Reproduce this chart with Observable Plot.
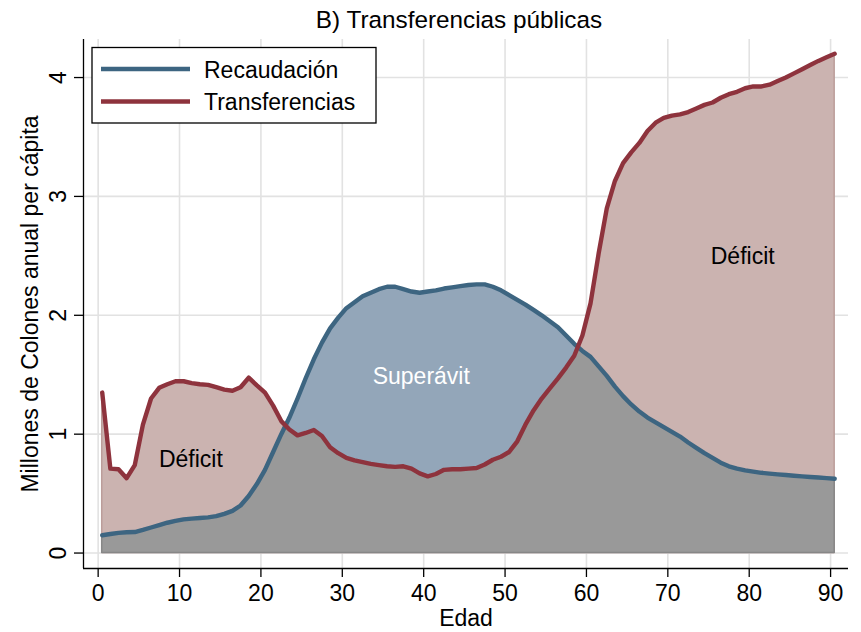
<!DOCTYPE html>
<html><head><meta charset="utf-8">
<script src="https://cdn.jsdelivr.net/npm/d3@7"></script>
<script src="https://cdn.jsdelivr.net/npm/@observablehq/plot@0.6"></script>
<style>body{margin:0;background:#fff;} svg{display:block}</style>
</head><body><div id="chart"></div>
<script>
const title = "B) Transferencias públicas";
const xLabel = "Edad";
const yLabel = "Millones de Colones anual per cápita";
const seriesNames = ["Recaudación", "Transferencias"];
const xTicks = [0, 10, 20, 30, 40, 50, 60, 70, 80, 90];
const yTicks = [0, 1, 2, 3, 4];

const ages = [0.5,1.5,2.5,3.5,4.5,5.5,6.5,7.5,8.5,9.5,10.5,11.5,12.5,13.5,14.5,15.5,16.5,17.5,18.5,19.5,
  20.5,21.5,22.5,23.5,24.5,25.5,26.5,27.5,28.5,29.5,30.5,31.5,32.5,33.5,34.5,35.5,36.5,37.5,38.5,39.5,
  40.5,41.5,42.5,43.5,44.5,45.5,46.5,47.5,48.5,49.5,50.5,51.5,52.5,53.5,54.5,55.5,56.5,57.5,58.5,59.5,
  60.5,61.5,62.5,63.5,64.5,65.5,66.5,67.5,68.5,69.5,70.5,71.5,72.5,73.5,74.5,75.5,76.5,77.5,78.5,79.5,
  80.5,81.5,82.5,83.5,84.5,85.5,86.5,87.5,88.5,89.5,90.5];

const recaudacion = [0.15,0.16,0.17,0.175,0.177,0.195,0.215,0.235,0.255,0.27,
  0.283,0.29,0.295,0.30,0.31,0.33,0.355,0.40,0.48,0.58,
  0.70,0.85,1.00,1.14,1.30,1.47,1.63,1.77,1.89,1.98,
  2.06,2.11,2.16,2.19,2.22,2.24,2.24,2.22,2.20,2.19,
  2.20,2.21,2.225,2.235,2.245,2.255,2.26,2.26,2.24,2.21,
  2.17,2.13,2.09,2.045,2.00,1.95,1.90,1.83,1.76,1.70,
  1.65,1.57,1.49,1.40,1.32,1.25,1.19,1.14,1.10,1.06,
  1.02,0.98,0.93,0.885,0.84,0.80,0.76,0.73,0.71,0.695,
  0.685,0.675,0.668,0.662,0.656,0.65,0.645,0.64,0.635,0.63,0.625];

const transferencias = [1.35,0.71,0.705,0.63,0.74,1.08,1.30,1.39,1.42,1.445,
  1.445,1.43,1.42,1.415,1.395,1.375,1.365,1.395,1.475,1.41,
  1.35,1.24,1.11,1.04,0.99,1.01,1.035,0.985,0.89,0.84,
  0.80,0.78,0.765,0.75,0.74,0.73,0.725,0.73,0.71,0.67,
  0.645,0.665,0.70,0.705,0.705,0.71,0.715,0.745,0.785,0.81,
  0.85,0.94,1.08,1.20,1.30,1.385,1.47,1.56,1.66,1.83,
  2.10,2.52,2.90,3.13,3.28,3.37,3.45,3.55,3.62,3.66,
  3.68,3.69,3.71,3.74,3.77,3.79,3.83,3.86,3.88,3.91,
  3.925,3.925,3.94,3.97,4.00,4.035,4.07,4.105,4.14,4.17,4.20];

const noteTexts = ["Déficit", "Superávit", "Déficit"];
const noteAges = [11.4, 39.7, 79.2];
const noteValues = [0.785, 1.484, 2.494];
const noteColors = ["black", "white", "black"];

const data = ages.map((a, i) => ({age: a, r: recaudacion[i], t: transferencias[i]}));
// lower envelope (min of both series) with exact crossing points
const low = [];
for (let i = 0; i < data.length; i++) {
  low.push({age: data[i].age, v: Math.min(data[i].r, data[i].t)});
  if (i < data.length - 1) {
    const d0 = data[i].r - data[i].t, d1 = data[i + 1].r - data[i + 1].t;
    if (d0 * d1 < 0) {
      const f = d0 / (d0 - d1);
      low.push({age: data[i].age + f * (data[i + 1].age - data[i].age), v: data[i].r + f * (data[i + 1].r - data[i].r)});
    }
  }
}
const notes = noteTexts.map((s, i) => ({text: s, age: noteAges[i], v: noteValues[i], c: noteColors[i]}));

const colRec = "#3d6581", colTra = "#8e333d";
const xDomain = [-1.8, 92.2], yDomain = [-0.13, 4.32];
const FONT = "'Liberation Sans', Arial, Helvetica, sans-serif";

const plot = Plot.plot({
  width: 861, height: 632,
  marginLeft: 83, marginRight: 13, marginTop: 39, marginBottom: 64,
  style: {fontFamily: FONT, fontSize: "23px", background: "white", color: "black"},
  x: {domain: xDomain, label: null},
  y: {domain: yDomain, label: null},
  marks: [
    Plot.gridX(xTicks, {stroke: "#e2e2e2", strokeOpacity: 1, strokeWidth: 1.6}),
    Plot.gridY(yTicks, {stroke: "#e2e2e2", strokeOpacity: 1, strokeWidth: 1.6}),
    Plot.areaY(data, {x: "age", y: "t", fill: "#cbb3b0", stroke: "#bb9d9a", strokeWidth: 1.5}),
    Plot.areaY(data, {x: "age", y: "r", fill: "#93a6b9"}),
    Plot.areaY(low, {x: "age", y: "v", fill: "#999999", stroke: "#878787", strokeWidth: 1.5}),
    Plot.lineY(data, {x: "age", y: "r", stroke: colRec, strokeWidth: 4.4, strokeLinejoin: "round"}),
    Plot.lineY(data, {x: "age", y: "t", stroke: colTra, strokeWidth: 4.4, strokeLinejoin: "round"}),
    Plot.ruleX([xDomain[0]], {stroke: "black", strokeWidth: 1.3}),
    Plot.ruleY([yDomain[0]], {stroke: "black", strokeWidth: 1.3}),
    Plot.axisX({ticks: xTicks, tickSize: 9, tickPadding: 7, fontSize: 23, label: null, strokeWidth: 1.3}),
    Plot.axisY({ticks: yTicks, tickSize: 9, tickFormat: () => "", label: null, strokeWidth: 1.3}),
    Plot.text(yTicks, {y: d => d, text: d => String(d), frameAnchor: "left", textAnchor: "middle", lineAnchor: "middle", dx: -25, rotate: -90, fontSize: 23}),
    Plot.text([yLabel], {text: d => d, frameAnchor: "left", textAnchor: "middle", lineAnchor: "middle", dx: -53, rotate: -90, fontSize: 23}),
    Plot.text([xLabel], {text: d => d, frameAnchor: "bottom", lineAnchor: "middle", dy: 50, fontSize: 23}),
    Plot.text([title], {text: d => d, frameAnchor: "top", lineAnchor: "middle", dy: -19, dx: -7, fontSize: 24.3}),
    Plot.text(notes, {x: "age", y: "v", text: "text", fill: d => d.c, fontSize: 23})
  ]
});

// legend
const svg = d3.select(plot);
const lg = svg.append("g").attr("font-family", FONT).attr("font-size", 23).attr("text-anchor", "start");
lg.append("rect").attr("x", 92).attr("y", 47.5).attr("width", 284).attr("height", 75.5)
  .attr("fill", "white").attr("stroke", "black").attr("stroke-width", 1.3);
[[colRec, 69, 78, seriesNames[0]], [colTra, 101.5, 110, seriesNames[1]]].forEach(([c, ly, ty, s]) => {
  lg.append("line").attr("x1", 101).attr("x2", 190).attr("y1", ly).attr("y2", ly)
    .attr("stroke", c).attr("stroke-width", 4.4);
  lg.append("text").attr("x", 204).attr("y", ty).attr("fill", "black").attr("text-anchor", "start").text(s);
});

document.getElementById("chart").appendChild(plot);
</script>
</body></html>
